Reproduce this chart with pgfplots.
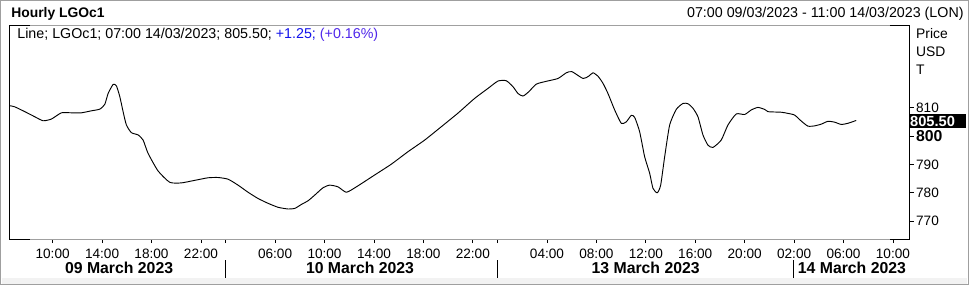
\documentclass[border=0pt]{standalone}
\usepackage{fontspec}
\setmainfont{Liberation Sans}
\usepackage{pgfplots}
\pgfplotsset{compat=1.18}
\definecolor{frameg}{RGB}{160,160,160}
\definecolor{chgblue}{RGB}{20,20,235}
\definecolor{pctblue}{RGB}{80,40,235}
\begin{document}
\begin{tikzpicture}[x=0.75pt,y=-0.75pt]
\fill[white] (0,0) rectangle (969,285);
\fill[gray!10] (2,278) rectangle (967,285);
\draw[gray!75, line width=1.1pt] (0.6,0.6) rectangle (968.4,284.4);
\node[anchor=west, inner sep=0pt, font=\fontsize{10.4}{12}\selectfont\bfseries] at (11,14) {Hourly LGOc1};
\node[anchor=east, inner sep=0pt, font=\fontsize{10.7}{12}\selectfont] at (964,14) {07:00 09/03/2023 - 11:00 14/03/2023 (LON)};
\begin{axis}[
  at={(6.75pt,-179.25pt)}, anchor=south west, scale only axis,
  width=675.75pt, height=160.5pt,
  xmin=9, xmax=910, ymin=763.7, ymax=839.1,
  axis line style={draw=none},
  tick align=outside, major tick length=3pt,
  tick style={black, line width=0.6pt},
  xtick pos=left, xticklabel pos=left,
  ytick pos=right, yticklabel pos=right,
  xtick={52.5,102,151.4,200.9,275,324.5,374,423.4,472.8,547,596.4,645.9,695.3,744.7,794.2,843.6,893},
  xticklabels={10:00,14:00,18:00,22:00,06:00,10:00,14:00,18:00,22:00,04:00,08:00,12:00,16:00,20:00,02:00,06:00,10:00},
  extra x ticks={225.6,497.5}, extra x tick labels={},
  ytick={770,780,790,800,810},
  yticklabels={770,780,790,{\fontsize{11.85}{12}\selectfont\bfseries 800},810},
  xticklabel style={font=\fontsize{10.2}{12}\selectfont, inner sep=1.5pt, yshift=-2.5pt},
  yticklabel style={font=\fontsize{10.2}{12}\selectfont, inner sep=1.5pt},
  clip=false,
]
\addplot[black, line width=0.7pt, smooth, tension=0.35, line join=round] coordinates {
(9.7,810.7) (14.7,810.3) (24.7,808.6) (34.7,806.8) (43,805.4) (51.3,806.0)
(61.3,808.2) (71.3,808.2) (81.3,808.2) (91.3,808.9) (99.7,809.5) (104.7,811.2)
(108,815.0) (113,818.2) (116.3,817.7) (119.7,813.9) (123,808.6) (126.3,803.9)
(131.3,801.2) (138,800.4) (143,798.6) (148,793.9) (158,787.7) (169.7,783.7)
(181.3,783.5) (194.7,784.4) (208,785.3) (218,785.4) (228,784.8) (238,782.7)
(248,780.2) (258,778.0) (268,776.3) (278,774.9) (288,774.3) (294.7,774.5)
(301.3,775.9) (308,777.2) (314.7,779.2) (323,781.8) (329.7,782.7) (338,782.1)
(346.3,780.2) (356.3,782.1) (374.7,786.3) (391.3,790.1) (408,794.5) (424.7,798.6)
(441.3,803.3) (458,808.1) (474.7,813.3) (488,816.8) (498,819.4) (506.3,819.5)
(513,817.4) (518,815.0) (523,814.1) (528.7,815.6) (536.3,818.3) (546.3,819.3)
(558,820.3) (566.3,822.3) (572,822.7) (583,820.3) (588.7,821.1) (593,822.3)
(598,821.1) (603,818.6) (608,815.0) (614.7,809.2) (621.3,804.5) (626.3,805.0)
(631.3,807.3) (634.7,806.6) (639.7,801.5) (644.7,792.7) (649.7,786.9) (653,781.6)
(657.3,780.0) (660.7,782.7) (664.7,792.7) (669.7,803.9) (676.3,809.4) (683,811.5)
(688,811.4) (693,809.8) (698,806.8) (703,800.4) (708,796.8) (713,796.0)
(721.3,798.6) (728,803.9) (736.3,807.8) (744.7,807.6) (751.3,809.2) (758,810.1)
(764.7,809.4) (768,808.6) (781.3,808.4) (788,808.0) (794.7,807.4) (801.3,805.3)
(808,803.5) (814.7,803.6) (821.3,804.2) (828,805.2) (834.7,804.9) (841.3,804.1)
(848,804.5) (856.3,805.5)
};
\end{axis}
% frame
\draw[frameg, line width=0.75pt] (30,25) -- (890,25);
\draw[frameg, line width=0.75pt] (30,239) -- (890,239);
\draw[black, line width=0.75pt] (30,25) -- (9,25) -- (9,239) -- (30,239);
\draw[black, line width=0.75pt] (890,25) -- (910,25) -- (910,239) -- (890,239);
% legend line
\node[anchor=west, inner sep=0pt, font=\fontsize{10.7}{12}\selectfont] at (17,35) {Line; LGOc1; 07:00 14/03/2023; 805.50; \textcolor{chgblue}{+1.25;} \textcolor{pctblue}{(+0.16\%)}};
% right axis labels
\node[anchor=west, inner sep=0pt, font=\fontsize{10.4}{12}\selectfont] at (916,33) {Price};
\node[anchor=west, inner sep=0pt, font=\fontsize{10.4}{12}\selectfont] at (916,51.5) {USD};
\node[anchor=west, inner sep=0pt, font=\fontsize{10.4}{12}\selectfont] at (916,69.5) {T};
% last value box
\fill[black] (909,114.3) rectangle (966,127.7);
\node[anchor=west, inner sep=0pt, text=white, font=\fontsize{11}{12}\selectfont\bfseries] at (910,121) {805.50};
% date row
\foreach \xx in {225.5,497.5,794} \draw[black, line width=0.75pt] (\xx,260) -- (\xx,278);
\node[inner sep=0pt, font=\fontsize{11.85}{12}\selectfont\bfseries] at (119,268) {09 March 2023};
\node[inner sep=0pt, font=\fontsize{11.85}{12}\selectfont\bfseries] at (360,268) {10 March 2023};
\node[inner sep=0pt, font=\fontsize{11.85}{12}\selectfont\bfseries] at (645.7,268) {13 March 2023};
\node[inner sep=0pt, font=\fontsize{11.85}{12}\selectfont\bfseries] at (852,268) {14 March 2023};
\end{tikzpicture}
\end{document}
